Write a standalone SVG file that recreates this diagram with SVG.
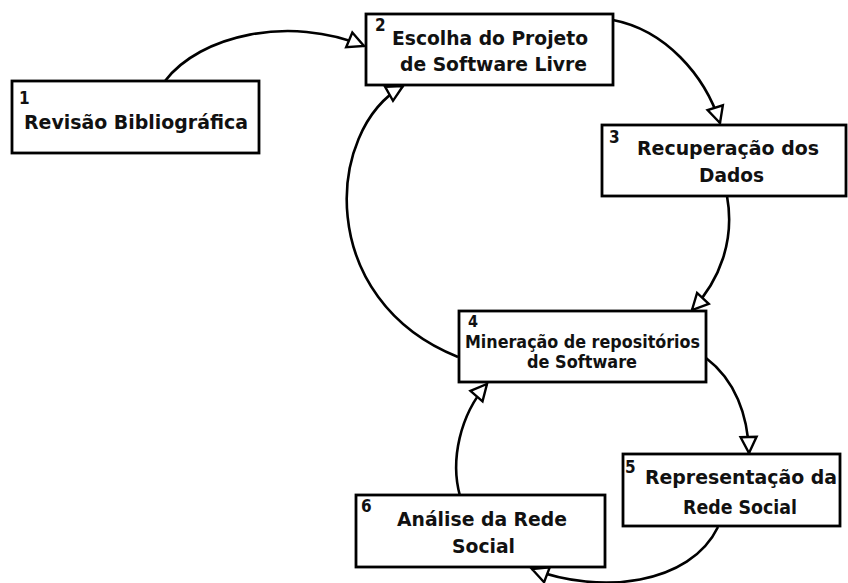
<svg xmlns="http://www.w3.org/2000/svg" width="848" height="583" viewBox="0 0 848 583">
<defs>
<style>
.box{fill:#fff;stroke:#000;stroke-width:2.8}
.t{font-family:"DejaVu Sans Condensed","DejaVu Sans",sans-serif;font-weight:bold;font-size:20px;fill:#111;text-anchor:middle}
.n{font-family:"DejaVu Sans Condensed","DejaVu Sans",sans-serif;font-weight:bold;font-size:17px;fill:#111}
.c{fill:none;stroke:#000;stroke-width:2.6;marker-end:url(#ah)}
</style>
<marker id="ah" markerUnits="userSpaceOnUse" markerWidth="20" markerHeight="20" refX="17" refY="8.5" orient="auto" overflow="visible">
<path d="M1,0.5 L17,8.5 L1,16.5 Z" fill="#fff" stroke="#000" stroke-width="2.4" stroke-linejoin="miter"/>
</marker>
</defs>
<rect width="848" height="583" fill="#fff"/>
<g id="connectors">
<path class="c" d="M165,81 C200,35 290,15 364,46"/>
<path class="c" d="M613,20 C665,30 705,75 720,123"/>
<path class="c" d="M727,196 C735,240 720,280 692,310"/>
<path class="c" d="M458,357 C315,300 325,130 403,86"/>
<path class="c" d="M706,358 C735,380 748,415 749,453"/>
<path class="c" d="M718,527 C690,585 600,595 532,569"/>
<path class="c" d="M460,496 C450,460 460,415 487,384"/>
</g>
<g id="node1">
<rect class="box" x="12" y="81" width="247" height="72"/>
<text class="n" x="19" y="104">1</text>
<text class="t" x="136" y="129" textLength="224" lengthAdjust="spacingAndGlyphs">Revisão Bibliográfica</text>
</g>
<g id="node2">
<rect class="box" x="366" y="14" width="247" height="71"/>
<text class="n" x="375" y="31">2</text>
<text class="t" x="490" y="45" textLength="196" lengthAdjust="spacingAndGlyphs">Escolha do Projeto</text>
<text class="t" x="493.5" y="71" textLength="187" lengthAdjust="spacingAndGlyphs">de Software Livre</text>
</g>
<g id="node3">
<rect class="box" x="602" y="125" width="244" height="71"/>
<text class="n" x="609" y="143">3</text>
<text class="t" x="728" y="155" textLength="182" lengthAdjust="spacingAndGlyphs">Recuperação dos</text>
<text class="t" x="731.5" y="182" textLength="65" lengthAdjust="spacingAndGlyphs">Dados</text>
</g>
<g id="node4">
<rect class="box" x="459" y="311" width="247" height="71"/>
<text class="n" x="468" y="327" style="font-size:16px">4</text>
<text class="t" x="582.5" y="347.5" style="font-size:17.5px" textLength="235" lengthAdjust="spacingAndGlyphs">Mineração de repositórios</text>
<text class="t" x="582" y="368" style="font-size:17.5px" textLength="110" lengthAdjust="spacingAndGlyphs">de Software</text>
</g>
<g id="node5">
<rect class="box" x="623" y="454" width="217" height="72"/>
<text class="n" x="625" y="473">5</text>
<text class="t" x="741" y="484" textLength="192" lengthAdjust="spacingAndGlyphs">Representação da</text>
<text class="t" x="740" y="514" textLength="114" lengthAdjust="spacingAndGlyphs">Rede Social</text>
</g>
<g id="node6">
<rect class="box" x="356" y="495" width="249" height="72"/>
<text class="n" x="361" y="512">6</text>
<text class="t" x="482" y="526" textLength="170" lengthAdjust="spacingAndGlyphs">Análise da Rede</text>
<text class="t" x="483.5" y="553" textLength="63" lengthAdjust="spacingAndGlyphs">Social</text>
</g>
</svg>
